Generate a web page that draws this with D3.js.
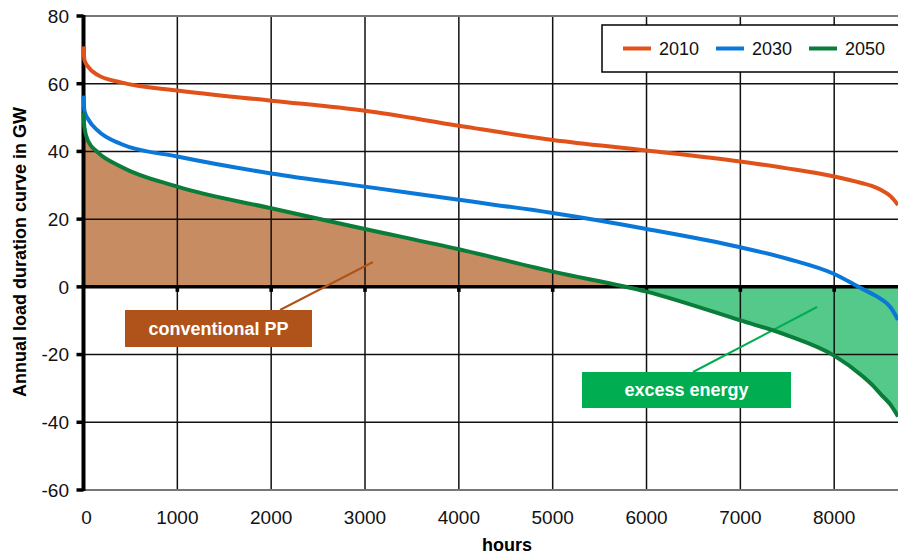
<!DOCTYPE html>
<html>
<head>
<meta charset="utf-8">
<script src="https://cdn.jsdelivr.net/npm/d3@7"></script>
<style>
  body { margin: 0; background: #fff; }
  svg { display: block; font-family: Arial, "Liberation Sans", sans-serif; }
</style>
</head>
<body>
<svg id="chart" width="898" height="554"></svg>
<script>
// hours of the year, sorted load duration (GW)
var hours = [0, 10, 50, 150, 400, 1000, 2000, 3000, 4000, 5000, 6000, 7000, 7500, 8000, 8300, 8400, 8500, 8600, 8680];
var load2010 = [71, 67, 65, 62.6, 60.4, 58.0, 55.0, 52.0, 47.6, 43.4, 40.3, 37.0, 35.0, 32.6, 30.6, 29.8, 28.6, 26.8, 24.2];
var load2030 = [56.5, 52, 49.5, 46.2, 42.2, 38.5, 33.5, 29.6, 25.7, 21.8, 17.1, 11.7, 8.3, 3.8, -0.6, -2.0, -3.6, -6.0, -9.7];
var load2050 = [51.5, 47, 43, 39.8, 35.5, 29.6, 23.2, 17.1, 11.1, 4.5, -1.4, -9.9, -14.3, -20.3, -26.3, -28.8, -31.8, -34.8, -38.3];
var xTicks = [0, 1000, 2000, 3000, 4000, 5000, 6000, 7000, 8000];
var yTicks = [-60, -40, -20, 0, 20, 40, 60, 80];
var seriesNames = ["2010", "2030", "2050"];
var seriesColors = ["#e0521a", "#0a78d8", "#0b7d3a"];

var svg = d3.select("#chart");
var pLeft = 83.5, pRight = 898, pTop = 16, pBottom = 490;

var x = d3.scaleLinear().domain([0, 8680]).range([pLeft, pRight]);
var y = d3.scaleLinear().domain([-60, 80]).range([pBottom, pTop]);

function pts(vals) {
    return hours.map(function(h, i) { return [h, vals[i]]; });
}

// clip areas above / below zero
var defs = svg.append("defs");
defs.append("clipPath").attr("id", "above")
    .append("rect").attr("x", pLeft).attr("y", pTop).attr("width", pRight - pLeft).attr("height", y(0) - pTop);
defs.append("clipPath").attr("id", "below")
    .append("rect").attr("x", pLeft).attr("y", y(0)).attr("width", pRight - pLeft).attr("height", pBottom - y(0));

var area = d3.area()
    .x(function(d) { return x(d[0]); })
    .y0(y(0))
    .y1(function(d) { return y(d[1]); })
    .curve(d3.curveMonotoneX);

svg.append("path").attr("d", area(pts(load2050)))
    .attr("fill", "#c88c62").attr("clip-path", "url(#above)");
svg.append("path").attr("d", area(pts(load2050)))
    .attr("fill", "#55c98a").attr("clip-path", "url(#below)");

// grid
svg.selectAll(".vgrid").data(xTicks.filter(function(d) { return d > 0; }))
    .enter().append("line").attr("class", "vgrid")
    .attr("x1", function(d) { return x(d); }).attr("x2", function(d) { return x(d); })
    .attr("y1", pTop).attr("y2", pBottom)
    .attr("stroke", "#111").attr("stroke-width", 1.5);
svg.selectAll(".hgrid").data(yTicks.filter(function(d) { return d != 0 && d != 80 && d != -60; }))
    .enter().append("line").attr("class", "hgrid")
    .attr("x1", pLeft).attr("x2", pRight)
    .attr("y1", function(d) { return y(d); }).attr("y2", function(d) { return y(d); })
    .attr("stroke", "#111").attr("stroke-width", 1.5);
[80, -60].forEach(function(v) {
    svg.append("line").attr("x1", pLeft).attr("x2", pRight)
        .attr("y1", y(v)).attr("y2", y(v))
        .attr("stroke", "#777").attr("stroke-width", 2);
});

// zero line with small tick marks
svg.append("line").attr("x1", pLeft).attr("x2", pRight)
    .attr("y1", y(0)).attr("y2", y(0))
    .attr("stroke", "#000").attr("stroke-width", 3.5);
svg.selectAll(".ztick").data(xTicks.filter(function(d) { return d > 0; }))
    .enter().append("rect").attr("class", "ztick")
    .attr("x", function(d) { return x(d) - 1.8; }).attr("y", y(0))
    .attr("width", 3.6).attr("height", 5).attr("fill", "#000");

// y axis
svg.append("line").attr("x1", pLeft).attr("x2", pLeft).attr("y1", pTop - 1).attr("y2", pBottom + 1)
    .attr("stroke", "#000").attr("stroke-width", 4);
svg.selectAll(".ytick").data(yTicks).enter().append("line")
    .attr("x1", pLeft - 7).attr("x2", pLeft)
    .attr("y1", function(d) { return y(d); }).attr("y2", function(d) { return y(d); })
    .attr("stroke", "#000").attr("stroke-width", 3.5);

// annotation leader lines
svg.append("line").attr("x1", 280).attr("y1", 310).attr("x2", 373).attr("y2", 262)
    .attr("stroke", "#b0531a").attr("stroke-width", 2);
svg.append("line").attr("x1", 693).attr("y1", 372).attr("x2", 817).attr("y2", 307)
    .attr("stroke", "#00ad50").attr("stroke-width", 2);

// series (drawn over the axis, like the original)
var line = d3.line()
    .x(function(d) { return x(d[0]); })
    .y(function(d) { return y(d[1]); })
    .curve(d3.curveMonotoneX);
[load2010, load2030, load2050].forEach(function(vals, i) {
    svg.append("path").attr("d", line(pts(vals)))
        .attr("fill", "none").attr("stroke", seriesColors[i])
        .attr("stroke-width", 4);
});

svg.selectAll(".ylab").data(yTicks).enter().append("text")
    .attr("x", 69).attr("y", function(d) { return y(d); })
    .attr("dy", "0.36em").attr("text-anchor", "end")
    .attr("font-size", 19).attr("fill", "#111")
    .text(function(d) { return d; });
svg.selectAll(".xlab").data(xTicks).enter().append("text")
    .attr("x", function(d) { return x(d) + (d == 0 ? 3 : 0); }).attr("y", 524)
    .attr("text-anchor", "middle")
    .attr("font-size", 19).attr("fill", "#111")
    .text(function(d) { return d; });

svg.append("text").attr("x", 507).attr("y", 551)
    .attr("text-anchor", "middle").attr("font-size", 18).attr("font-weight", "bold")
    .text("hours");
svg.append("text").attr("transform", "translate(26,252) rotate(-90)")
    .attr("text-anchor", "middle").attr("font-size", 18).attr("font-weight", "bold")
    .text("Annual load duration curve in GW");

// legend
svg.append("rect").attr("x", 602).attr("y", 25).attr("width", 320).attr("height", 47)
    .attr("fill", "#fff").attr("stroke", "#000").attr("stroke-width", 1.5);
var legX = [623, 716, 809];
seriesNames.forEach(function(n, i) {
    svg.append("line").attr("x1", legX[i]).attr("x2", legX[i] + 28)
        .attr("y1", 48.5).attr("y2", 48.5)
        .attr("stroke", seriesColors[i]).attr("stroke-width", 4);
    svg.append("text").attr("x", legX[i] + 36).attr("y", 55)
        .attr("font-size", 18).attr("fill", "#111").text(n);
});

// annotation boxes
svg.append("rect").attr("x", 125).attr("y", 310).attr("width", 187).attr("height", 37)
    .attr("fill", "#b0531a");
svg.append("text").attr("x", 218.5).attr("y", 335)
    .attr("text-anchor", "middle").attr("font-size", 18).attr("font-weight", "bold")
    .attr("fill", "#fff").text("conventional PP");
svg.append("rect").attr("x", 582).attr("y", 372).attr("width", 209).attr("height", 36)
    .attr("fill", "#00ad50");
svg.append("text").attr("x", 686.5).attr("y", 396)
    .attr("text-anchor", "middle").attr("font-size", 18).attr("font-weight", "bold")
    .attr("fill", "#fff").text("excess energy");
</script>
</body>
</html>
